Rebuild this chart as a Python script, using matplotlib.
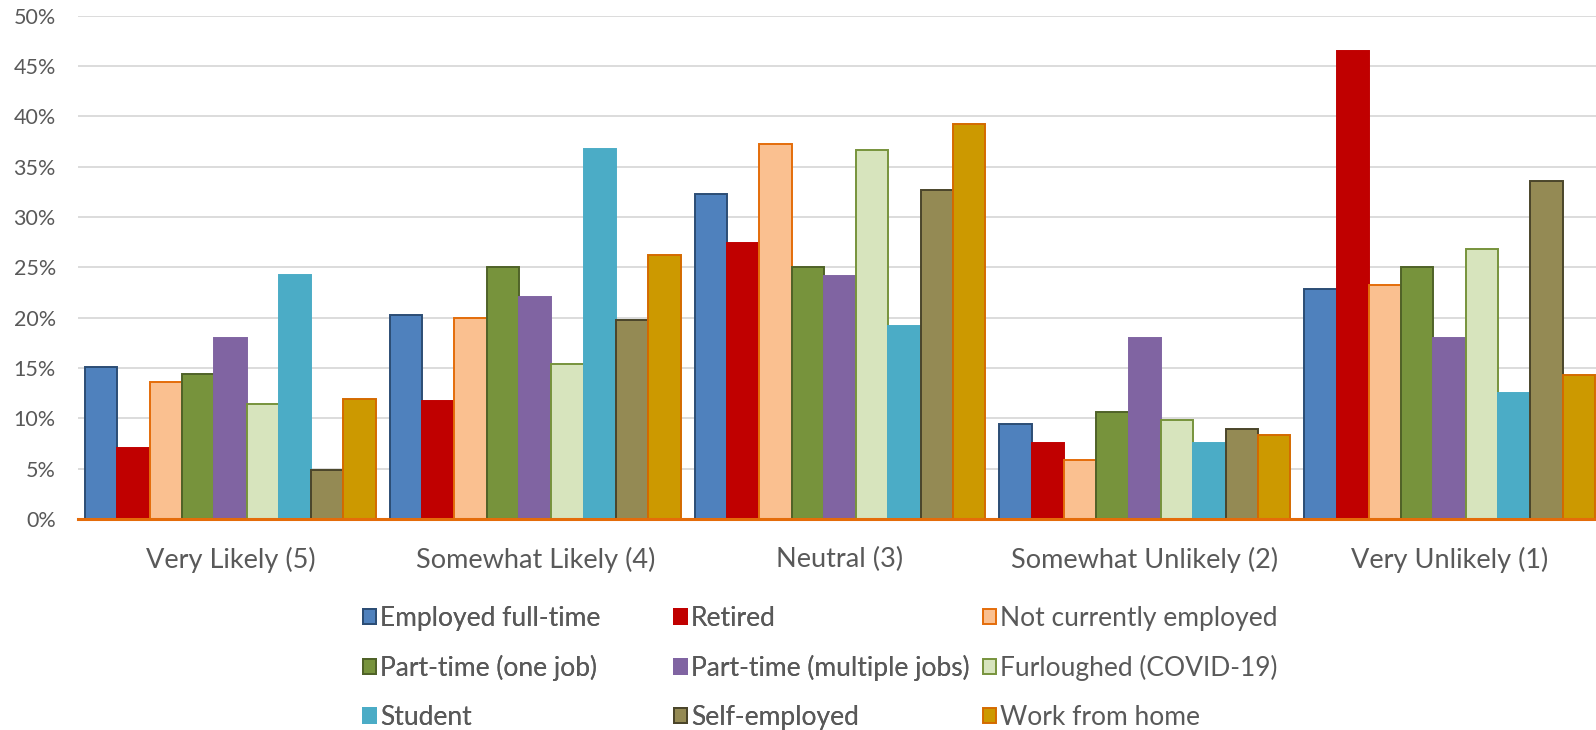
import matplotlib
matplotlib.use("Agg")
import matplotlib.pyplot as plt
import numpy as np
from matplotlib.patches import Patch

plt.rcParams['font.family'] = ['Lato', 'DejaVu Sans']

categories = ["Very Likely (5)", "Somewhat Likely (4)", "Neutral (3)",
              "Somewhat Unlikely (2)", "Very Unlikely (1)"]

series_names = ["Employed full-time", "Retired", "Not currently employed",
                "Part-time (one job)", "Part-time (multiple jobs)", "Furloughed (COVID-19)",
                "Student", "Self-employed", "Work from home"]

employed_full_time = [15.1, 20.3, 32.3, 9.4, 22.8]
retired = [7.1, 11.7, 27.4, 7.5, 46.5]
not_currently_employed = [13.6, 20.0, 37.2, 5.9, 23.2]
part_time_one_job = [14.4, 25.0, 25.0, 10.6, 25.0]
part_time_multiple_jobs = [18.0, 22.0, 24.1, 18.0, 18.0]
furloughed = [11.4, 15.4, 36.6, 9.8, 26.8]
student = [24.2, 36.7, 19.2, 7.5, 12.5]
self_employed = [4.9, 19.8, 32.7, 8.9, 33.6]
work_from_home = [11.9, 26.2, 39.2, 8.3, 14.3]

y_ticks = [0, 5, 10, 15, 20, 25, 30, 35, 40, 45, 50]

all_series = [employed_full_time, retired, not_currently_employed,
              part_time_one_job, part_time_multiple_jobs, furloughed,
              student, self_employed, work_from_home]

face_colors = ["#4F81BD", "#C00000", "#FAC090", "#77933C", "#8064A2",
               "#D7E4BD", "#4BACC6", "#948A54", "#CC9900"]
edge_colors = ["#2C4D75", "#C00000", "#E46C0A", "#4F6228", "#8064A2",
               "#77933C", "#4BACC6", "#4A452A", "#D46A00"]

W, H = 1596, 730
fig = plt.figure(figsize=(W / 100, H / 100), dpi=100)
ax_left, ax_right = 78, 1602
ax_top, ax_bottom = 15.5, 519
ax = fig.add_axes([ax_left / W, 1 - ax_bottom / H, (ax_right - ax_left) / W,
                   (ax_bottom - ax_top) / H])

x = np.arange(len(categories))
n = len(all_series)
bw = 0.106
for j, (vals, fc, ec, name) in enumerate(zip(all_series, face_colors, edge_colors, series_names)):
    ax.bar(x + (j - (n - 1) / 2) * bw, vals, width=bw, color=fc, edgecolor=ec,
           linewidth=1.4, label=name, zorder=2)

ax.set_xlim(-0.5, len(categories) - 0.5)
ax.set_ylim(0, 50)
ax.set_yticks(y_ticks)
ax.set_yticklabels([f"{v}%" for v in y_ticks])
ax.set_xticks(x)
ax.set_xticklabels(categories)
ax.tick_params(axis='y', length=0, pad=16, labelsize=15.5, labelcolor="#595959")
ax.tick_params(axis='x', length=0, pad=20, labelsize=19.5, labelcolor="#595959")
ax.grid(axis='y', color="#D9D9D9", linewidth=1.3, zorder=0)
ax.set_axisbelow(True)
for s in ['top', 'right', 'left']:
    ax.spines[s].set_visible(False)
ax.spines['bottom'].set_color("#E46C0A")
ax.spines['bottom'].set_linewidth(2.2)
ax.spines['bottom'].set_zorder(3)

# Legend: three columns, Excel-style equal spacing
col_x = [363, 674, 983]
handles = [Patch(facecolor=fc, edgecolor=ec, linewidth=1.4)
           for fc, ec in zip(face_colors, edge_colors)]
for c in range(3):
    idx = [c, c + 3, c + 6]
    leg = fig.legend([handles[i] for i in idx], [series_names[i] for i in idx],
                     loc='center left', bbox_to_anchor=(col_x[c] / W, 1 - 668 / H),
                     frameon=False, fontsize=19, labelcolor="#595959",
                     handlelength=0.5, handleheight=0.5, handletextpad=0.14,
                     labelspacing=0.92, borderpad=0, borderaxespad=0)
    if c < 2:
        fig.add_artist(leg)

fig.savefig("out.png", dpi=100, facecolor="white")
